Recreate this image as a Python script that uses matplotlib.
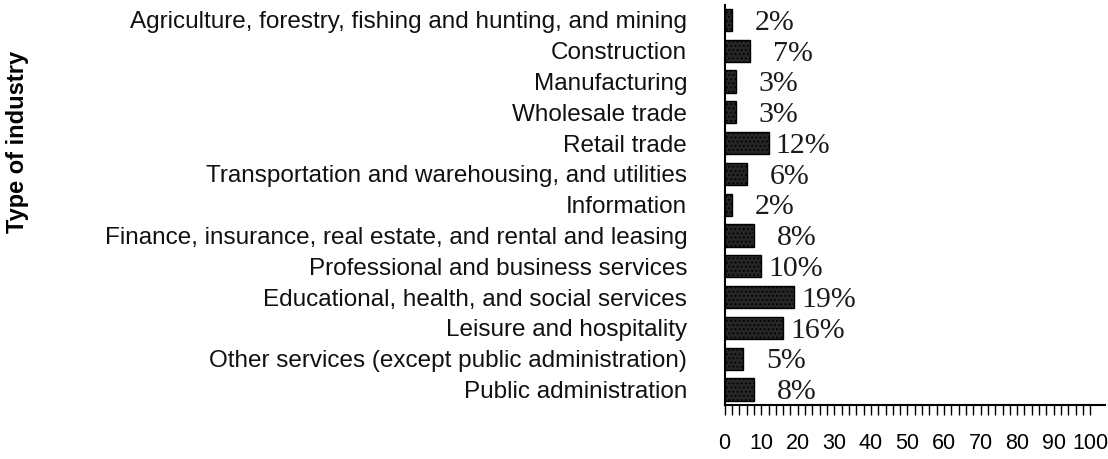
import matplotlib
matplotlib.use("Agg")
import matplotlib.pyplot as plt
from matplotlib.ticker import MultipleLocator

industries = [
    "Agriculture, forestry, fishing and hunting, and mining",
    "Construction",
    "Manufacturing",
    "Wholesale trade",
    "Retail trade",
    "Transportation and warehousing, and utilities",
    "Information",
    "Finance, insurance, real estate, and rental and leasing",
    "Professional and business services",
    "Educational, health, and social services",
    "Leisure and hospitality",
    "Other services (except public administration)",
    "Public administration",
]
shares = [2, 7, 3, 3, 12, 6, 2, 8, 10, 19, 16, 5, 8]
x_ticks = [0, 10, 20, 30, 40, 50, 60, 70, 80, 90, 100]

plt.rcParams["hatch.color"] = "#8a8a8a"
plt.rcParams["hatch.linewidth"] = 0.8

fig = plt.figure(figsize=(11.08, 4.59), dpi=100)
ax = fig.add_axes([0.654, 0.118, 0.33, 0.872])

pos = list(range(len(industries)))
ax.barh(pos, shares, height=0.72, color="#262626", edgecolor="#000000",
        linewidth=1.0, hatch="....")

# value labels: single digit values sit further out
for y, v in zip(pos, shares):
    off = 16.5 if v < 10 else 5
    ax.annotate(f"{v}%", xy=(v, y), xytext=(off, -2), textcoords="offset points",
                ha="left", va="center", fontsize=21.5, family="Liberation Serif",
                color="#1a1a1a")

ax.set_xlim(0, 100)
ax.set_ylim(len(industries) - 0.5, -0.5)
ax.set_yticks(pos)
ax.set_yticklabels(industries, family="Liberation Sans", fontsize=17.5,
                   color="#111111")
ax.tick_params(axis="y", length=0, pad=27)

ax.set_xticks(x_ticks)
ax.set_xticklabels([str(t) for t in x_ticks], family="Liberation Sans",
                   fontsize=15.5)
ax.xaxis.set_minor_locator(MultipleLocator(2))
ax.tick_params(axis="x", which="both", direction="out", length=7, width=1, pad=13)

for s in ["top", "right"]:
    ax.spines[s].set_visible(False)
ax.spines["left"].set_linewidth(1.5)
ax.spines["bottom"].set_linewidth(1.5)
ax.spines["bottom"].set_bounds(0, 104)
ax.spines["bottom"].set_clip_on(False)

fig.text(0.016, 0.69, "Type of industry", rotation=90, ha="center", va="center",
         fontsize=17, fontweight="bold", family="Liberation Sans")

fig.savefig("out.png", dpi=100)
